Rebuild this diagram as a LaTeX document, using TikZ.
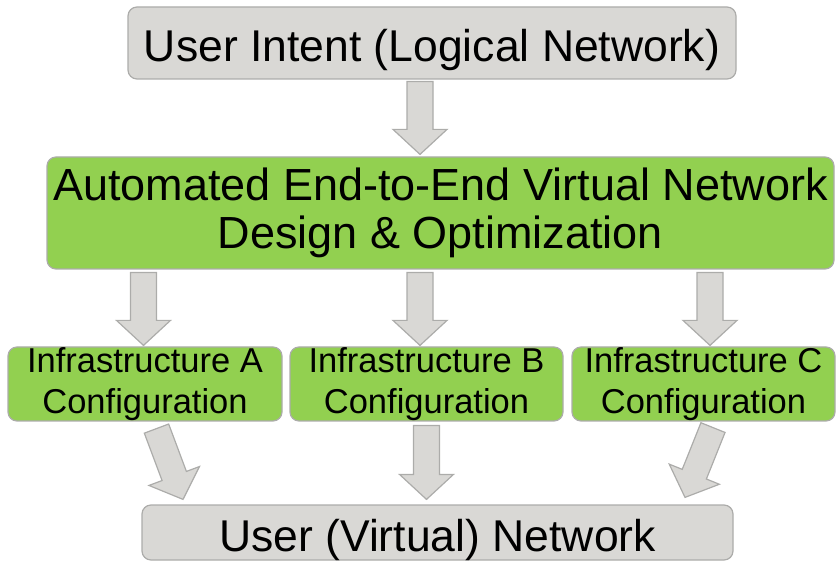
\documentclass[tikz,border=0pt]{standalone}
\usepackage{fontspec}
\setmainfont{Liberation Sans}
\usetikzlibrary{calc}

\definecolor{boxgray}{RGB}{217,216,213}
\definecolor{linegray}{RGB}{172,172,170}
\definecolor{boxgreen}{RGB}{146,208,80}

\tikzset{
  graybox/.style={rectangle, rounded corners=9pt, draw=linegray, fill=boxgray, line width=1.2pt, inner sep=0pt, align=center, font=\fontsize{44.5}{48}\selectfont},
  bigbox/.style={graybox, text height=44pt, text depth=7pt},
  greenbox/.style={graybox, fill=boxgreen, font=\fontsize{45}{48}\selectfont},
  smallbox/.style={greenbox, font=\fontsize{34.5}{41}\selectfont},
  arrowbox/.style={draw=linegray, fill=boxgray, line width=1.2pt}
}

\newcommand{\blkarrow}[2]{%
  \coordinate (ba-s) at #1;
  \coordinate (ba-t) at #2;
  \coordinate (ba-h) at ($(ba-t)!25pt!(ba-s)$);
  \draw[arrowbox] ($(ba-s)!13pt!90:(ba-t)$) -- ($(ba-h)!13pt!90:(ba-t)$) -- ($(ba-h)!27pt!90:(ba-t)$) -- (ba-t)
    -- ($(ba-h)!27pt!-90:(ba-t)$) -- ($(ba-h)!13pt!-90:(ba-t)$) -- ($(ba-s)!13pt!-90:(ba-t)$) -- cycle;
}

\begin{document}
\begin{tikzpicture}[x=1pt, y=-1pt]
      \useasboundingbox (0,0) rectangle (836,561);

      \node[bigbox, minimum width=608pt, minimum height=72pt] (in) at (432,43) {User Intent (Logical Network)};
      \node[greenbox, minimum width=787pt, minimum height=112pt] (opt) at (440.5,213) {Automated End-to-End Virtual Network\\Design \& Optimization};
      \node[smallbox, minimum width=274pt, minimum height=74pt] (a) at (145,384) {Infrastructure A\\Configuration};
      \node[smallbox, minimum width=273pt, minimum height=74pt] (b) at (426.5,384) {Infrastructure B\\Configuration};
      \node[smallbox, minimum width=263pt, minimum height=74pt] (c) at (703.5,384) {Infrastructure C\\Configuration};
      \node[bigbox, minimum width=591pt, minimum height=55pt] (out) at (437.5,532.5) {User (Virtual) Network};

      \blkarrow{($(in.south)+(-12,2)$)}{($(opt.north)+(-20.5,-2)$)}
      \blkarrow{($(opt.south -| a.north)+(-1.5,3)$)}{($(a.north)+(-1.5,-1)$)}
      \blkarrow{($(opt.south -| b.north)+(-6.5,3)$)}{($(b.north)+(-6.5,-1)$)}
      \blkarrow{($(opt.south -| c.north)+(6.5,3)$)}{($(c.north)+(6.5,-1)$)}
      \blkarrow{($(a.south)+(11.5,7)$)}{($(out.north -| a.south)+(38,-5)$)}
      \blkarrow{($(b.south)+(0,4)$)}{($(out.north -| b.south)+(0,-5)$)}
      \blkarrow{($(c.south)+(9.5,6)$)}{($(out.north -| c.south)+(-18.5,-7)$)}
    \end{tikzpicture}
\end{document}
